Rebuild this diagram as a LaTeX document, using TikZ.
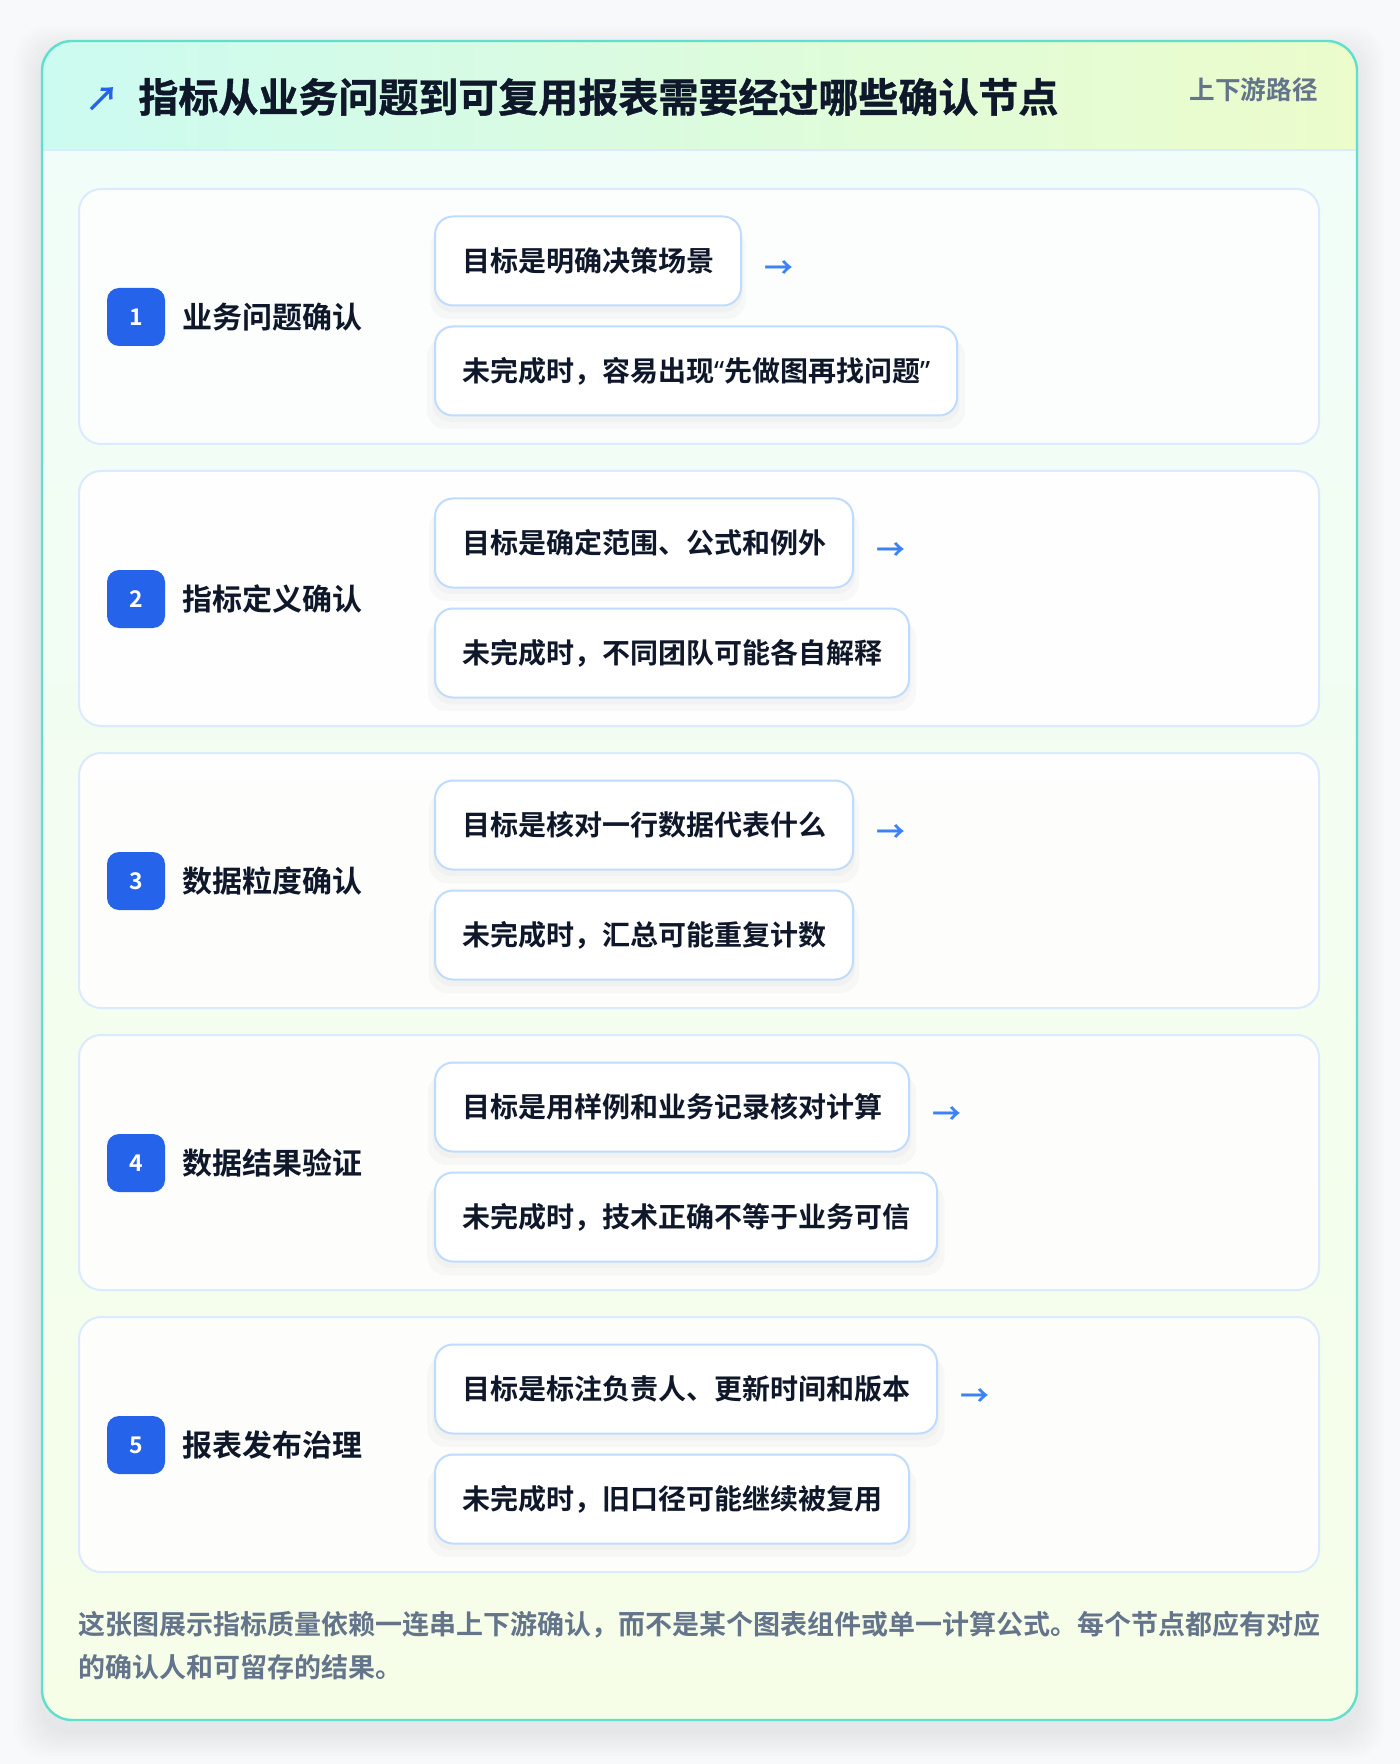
\documentclass[tikz,border=0pt]{standalone}
\usepackage{fontspec}
\setmainfont{Noto Sans CJK SC}[BoldFont={* Bold}]
\newfontfamily\quotefont{Noto Sans}
\newfontfamily\heavyfont{Noto Sans CJK SC}[BoldFont={* Bold},BoldFeatures={FakeBold=1}]
\usetikzlibrary{positioning,shadows}
\definecolor{ink}{HTML}{0F172A}
\definecolor{slate}{HTML}{64748B}
\definecolor{cardline}{HTML}{5EE0CC}
\definecolor{badgeblue}{HTML}{2563EB}
\definecolor{arrowblue}{HTML}{3B82F6}
\definecolor{stageline}{HTML}{DBEAFE}
\definecolor{boxline}{HTML}{BFDBFE}
\definecolor{hdleft}{HTML}{CCFBF1}
\definecolor{hdright}{HTML}{ECFCCB}
\definecolor{cardtop}{HTML}{F0FDF9}
\definecolor{cardbot}{HTML}{F6FEE8}
\definecolor{page}{HTML}{F8F9FB}
\newcommand\openq{{\quotefont “}}
\newcommand\closeq{{\quotefont ”}}
\begin{document}
\begin{tikzpicture}[x=0.5pt,y=-0.5pt,
    stagebox/.style={draw=stageline,line width=1pt,fill=white,fill opacity=.85,rounded corners=11pt},
    goalbox/.style={draw=boxline,line width=1pt,fill=white,rounded corners=9pt,inner xsep=13.5pt,
      minimum height=44.5pt,anchor=west,text=ink,font=\fontsize{14}{16}\selectfont\bfseries,
      general shadow={fill=black,fill opacity=.025,shadow yshift=-3pt,shadow scale=1.01},
      general shadow={fill=black,fill opacity=.025,shadow yshift=-6pt,shadow scale=1.03}},
    badgebox/.style={fill=badgeblue,rounded corners=6pt,minimum size=29pt,inner sep=0pt,
      text=white,font=\fontsize{11.5}{13}\selectfont\bfseries},
    stagelabel/.style={inner sep=0pt,text=ink,font=\fontsize{15}{18}\selectfont\bfseries},
    arrowmark/.style={inner sep=0pt,text=arrowblue,font=\fontsize{14.5}{16}\selectfont\bfseries}]
  \fill[page] (0,0) rectangle (1400,1764);
  \useasboundingbox (0,0) rectangle (1400,1764);
  \foreach \d in {3,6,...,27}
    \fill[black,fill opacity=.009,rounded corners=16pt] (42-\d,53-\d) rectangle (1357+\d,1732+\d);
  \path[top color=cardtop,bottom color=cardbot,rounded corners=15pt] (42,41) rectangle (1357,1720);
  \begin{scope}
    \clip[rounded corners=15pt] (42,41) rectangle (1357,1720);
    \shade[left color=hdleft,right color=hdright] (42,41) rectangle (1357,150);
  \end{scope}
  \draw[stageline,line width=1pt] (43,150) -- (1356,150);
  \draw[cardline,line width=1.2pt,rounded corners=15pt] (42,41) rectangle (1357,1720);
  \node[text=badgeblue,inner sep=0pt,font=\fontsize{17}{20}\selectfont\bfseries] (icon) at (102,99) {↗};
  \node[anchor=west,inner sep=0pt,text=ink,font=\heavyfont\fontsize{20}{24}\selectfont\bfseries] (title) at (138,97)
    {指标从业务问题到可复用报表需要经过哪些确认节点};
  \node[anchor=east,inner sep=0pt,text=slate,font=\fontsize{12.8}{15}\selectfont\bfseries] (tag) at (1318,90)
    {上下游路径};
  \foreach \i/\lab/\goal/\risk in {
      1/业务问题确认/目标是明确决策场景/未完成时，容易出现\openq 先做图再找问题\closeq,
      2/指标定义确认/目标是确定范围、公式和例外/未完成时，不同团队可能各自解释,
      3/数据粒度确认/目标是核对一行数据代表什么/未完成时，汇总可能重复计数,
      4/数据结果验证/目标是用样例和业务记录核对计算/未完成时，技术正确不等于业务可信,
      5/报表发布治理/目标是标注负责人、更新时间和版本/未完成时，旧口径可能继续被复用} {
    \pgfmathsetmacro\top{189+(\i-1)*282}
    \draw[stagebox] (79,\top) rectangle (1319,\top+255);
    \node[badgebox] (num\i) at (136,\top+128) {\i};
    \node[stagelabel,right=8.5pt of num\i] (lab\i) {\lab};
    \node[goalbox] (goal\i) at (434,\top+72) {\goal};
    \node[goalbox] (risk\i) at (434,\top+182) {\risk};
    \node[arrowmark,right=11pt of goal\i,yshift=-4.5pt] (arr\i) {→};
  }
  \node[anchor=west,inner sep=0pt,align=left,text=slate,font=\fontsize{13.5}{21.5}\selectfont\bfseries]
    (note) at (78,1646) {这张图展示指标质量依赖一连串上下游确认，而不是某个图表组件或单一计算公式。每个节点都应有对应\\的确认人和可留存的结果。};
\end{tikzpicture}
\end{document}
